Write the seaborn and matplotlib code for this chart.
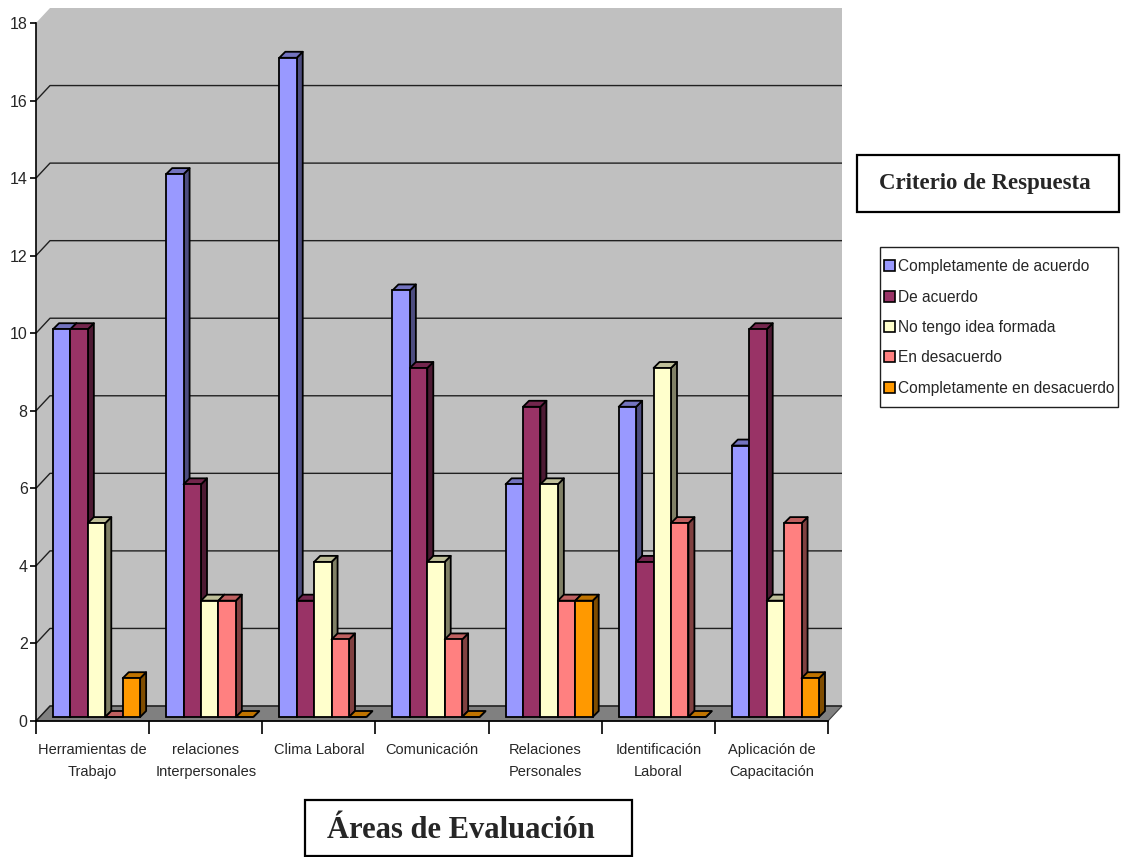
import matplotlib
matplotlib.use("Agg")
import matplotlib.pyplot as plt
from matplotlib.patches import Polygon, Rectangle, Patch
from matplotlib.colors import to_rgb
import pandas as pd
import seaborn as sns

# ---- data -------------------------------------------------------------
areas = [
    "Herramientas de\nTrabajo",
    "relaciones\nInterpersonales",
    "Clima Laboral",
    "Comunicación",
    "Relaciones\nPersonales",
    "Identificación\nLaboral",
    "Aplicación de\nCapacitación",
]
criterios = [
    "Completamente de acuerdo",
    "De acuerdo",
    "No tengo idea formada",
    "En desacuerdo",
    "Completamente en desacuerdo",
]
completamente_de_acuerdo = [10, 14, 17, 11, 6, 8, 7]
de_acuerdo = [10, 6, 3, 9, 8, 4, 10]
no_tengo_idea = [5, 3, 4, 4, 6, 9, 3]
en_desacuerdo = [0, 3, 2, 2, 3, 5, 5]
completamente_en_desacuerdo = [1, 0, 0, 0, 3, 0, 1]
colores = ["#9999FF", "#993366", "#FFFFCC", "#FF8080", "#FF9900"]
y_ticks = [0, 2, 4, 6, 8, 10, 12, 14, 16, 18]

series = [completamente_de_acuerdo, de_acuerdo, no_tengo_idea,
          en_desacuerdo, completamente_en_desacuerdo]
rows = []
for crit, vals in zip(criterios, series):
    for area, v in zip(areas, vals):
        rows.append({"area": area, "criterio": crit, "valor": v})
df = pd.DataFrame(rows)

# ---- figure / style ---------------------------------------------------
sns.set_style("white")
plt.rcParams["font.family"] = ["Liberation Sans", "DejaVu Sans"]
serif = ["Liberation Serif", "DejaVu Serif"]

W, H = 1121, 857
fig = plt.figure(figsize=(W / 100, H / 100), dpi=100)
fig.patch.set_facecolor("white")

left_px, right_px, zero_px, top_px = 36, 828, 721, 23
ax = fig.add_axes([left_px / W, 1 - zero_px / H,
                   (right_px - left_px) / W, (zero_px - top_px) / H])
ax.set_facecolor("none")

sns.barplot(data=df, x="area", y="valor", hue="criterio", order=areas,
            hue_order=criterios, palette=colores, saturation=1,
            width=0.77, gap=0, edgecolor="black", linewidth=1.3,
            legend=False, ax=ax, errorbar=None)

ax.set_xlim(-0.5, len(areas) - 0.5)
ax.set_ylim(0, 18)

# pixel -> data scale for the pseudo-3D depth
ppx = (right_px - left_px) / len(areas)
ppy = (zero_px - top_px) / 18.0
wall_dx, wall_dy = 14 / ppx, 15 / ppy     # depth of the back wall
off_dx, off_dy = 4 / ppx, 4 / ppy         # bars sit slightly back on the floor
bar_dx, bar_dy = 6 / ppx, 6 / ppy         # bar thickness

x0, x1 = -0.5, len(areas) - 0.5

# back + left wall
wall = Polygon([(x0, 0), (x0, 18), (x0 + wall_dx, 18 + wall_dy),
                (x1 + wall_dx, 18 + wall_dy), (x1 + wall_dx, wall_dy),
                (x1, 0)], closed=True, facecolor="#C0C0C0",
               edgecolor="none", zorder=0, clip_on=False)
ax.add_patch(wall)
# floor
floor = Polygon([(x0, 0), (x1, 0), (x1 + wall_dx, wall_dy),
                 (x0 + wall_dx, wall_dy)], closed=True, facecolor="#808080",
                edgecolor="#404040", linewidth=0.8, zorder=0.5, clip_on=False)
ax.add_patch(floor)

# gridlines on the back wall with their diagonal on the side wall
for v in y_ticks[:-1]:
    ax.plot([x0, x0 + wall_dx, x1 + wall_dx], [v, v + wall_dy, v + wall_dy],
            color="#202020", linewidth=1.0, zorder=0.6, clip_on=False,
            solid_capstyle="butt")

# turn seaborn's flat bars into prisms
bars = [b for b in ax.patches if isinstance(b, Rectangle)]
for b in bars:
    x, w, h = b.get_x(), b.get_width(), b.get_height()
    fc = to_rgb(b.get_facecolor())
    side = tuple(c * 0.5 for c in fc)
    top = tuple(c * 0.75 for c in fc)
    bx = x + off_dx
    by = off_dy
    z = 2 + (bx + 1) * 0.5
    b.set_x(bx)
    b.set_y(by)
    b.set_zorder(z + 0.02)
    b.set_clip_on(False)
    ax.add_patch(Polygon([(bx + w, by), (bx + w + bar_dx, by + bar_dy),
                          (bx + w + bar_dx, by + h + bar_dy), (bx + w, by + h)],
                         closed=True, facecolor=side, edgecolor="black",
                         linewidth=1.3, zorder=z, clip_on=False,
                         joinstyle="round"))
    ax.add_patch(Polygon([(bx, by + h), (bx + w, by + h),
                          (bx + w + bar_dx, by + h + bar_dy),
                          (bx + bar_dx, by + h + bar_dy)],
                         closed=True, facecolor=top, edgecolor="black",
                         linewidth=1.3, zorder=z + 0.01, clip_on=False,
                         joinstyle="round"))

# axes
for s in ["top", "right"]:
    ax.spines[s].set_visible(False)
for s in ["left", "bottom"]:
    ax.spines[s].set_linewidth(1.2)
    ax.spines[s].set_color("black")
    ax.spines[s].set_zorder(50)

ax.set_yticks(y_ticks)
ax.set_yticklabels([str(t) for t in y_ticks])
ax.tick_params(axis="y", length=4, width=1.2, color="black", pad=2,
               labelsize=11.5, left=True)

ax.set_xticks(range(len(areas)))
ax.set_xticklabels(areas, fontsize=10.5, linespacing=1.7)
ax.set_xticks([i - 0.5 for i in range(len(areas) + 1)], minor=True)
ax.tick_params(axis="x", which="major", length=0, pad=16)
ax.tick_params(axis="x", which="minor", length=9, width=1.2, color="black",
               bottom=True)
ax.set_xlabel("")
ax.set_ylabel("")

# axis title box
fig.patches.append(Rectangle((305 / W, 1 - 856 / H), 327 / W, 56 / H,
                             transform=fig.transFigure, fill=False,
                             edgecolor="black", linewidth=1.6))
fig.text(461 / W, 1 - 830 / H, "Áreas de Evaluación", ha="center",
         va="center", fontsize=22, fontweight="bold", family=serif)

# legend title box
fig.patches.append(Rectangle((857 / W, 1 - 212 / H), 262 / W, 57 / H,
                             transform=fig.transFigure, fill=False,
                             edgecolor="black", linewidth=1.6))
fig.text(985 / W, 1 - 183 / H, "Criterio de Respuesta", ha="center",
         va="center", fontsize=16.5, fontweight="bold", family=serif)

# legend: frame drawn separately so the entries can sit tight to its edges
fig.patches.append(Rectangle((880 / W, 1 - 407 / H), 238 / W, 160 / H,
                             transform=fig.transFigure, fill=False,
                             edgecolor="#202020", linewidth=1.0))
handles = [Patch(facecolor=c, edgecolor="black", linewidth=1.2)
           for c in colores]
leg = fig.legend(handles, criterios, loc="upper left",
                 bbox_to_anchor=(881 / W, 1 - 256 / H), borderaxespad=0,
                 fontsize=11.2, frameon=False,
                 handlelength=0.7, handleheight=0.7,
                 handletextpad=0.2, labelspacing=0.99, borderpad=0.2)

fig.savefig("out.png", dpi=100, facecolor="white")
